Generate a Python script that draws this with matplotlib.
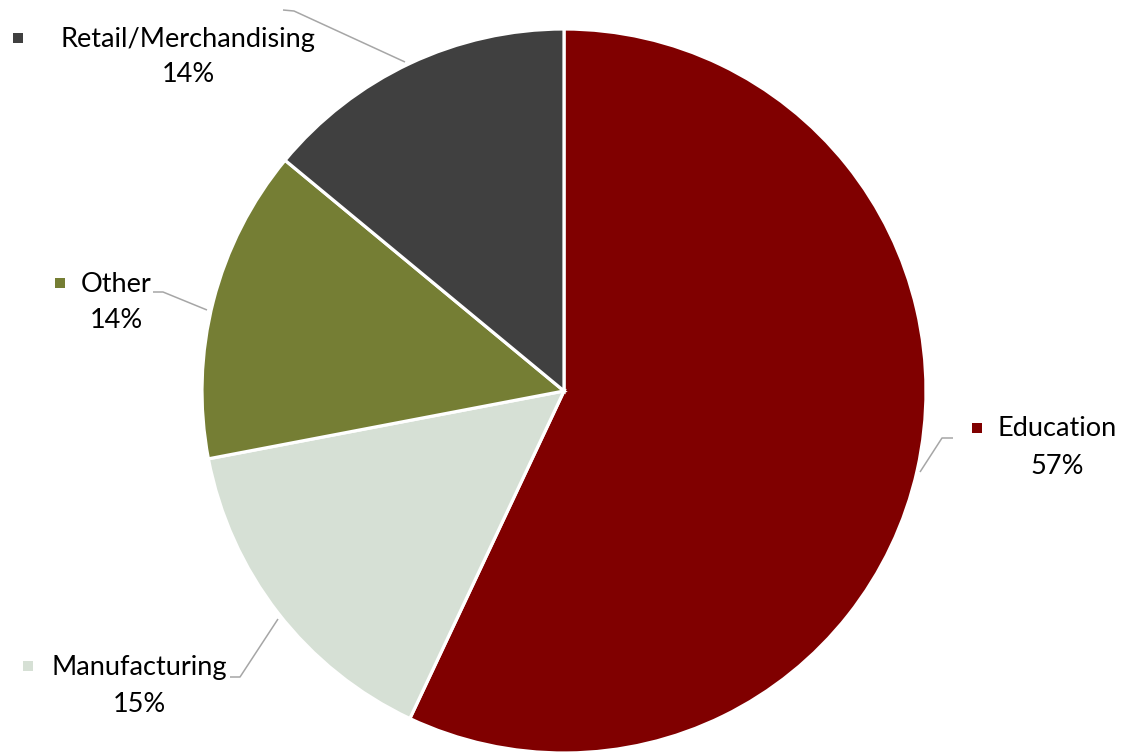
import matplotlib
matplotlib.use("Agg")
import matplotlib.pyplot as plt

categories = ["Education", "Manufacturing", "Other", "Retail/Merchandising"]
shares = [57, 15, 14, 14]
colors = ["#800000", "#D6E0D5", "#757E34", "#404040"]

W, H = 1128, 752
fig = plt.figure(figsize=(W / 100, H / 100), dpi=100)
ax = fig.add_axes([0, 0, 1, 1])

# pie drawn in pixel-like data coords (y inverted): clockwise from top
ax.pie(shares, colors=colors, startangle=-90, counterclock=True,
       center=(564, 391), radius=362,
       wedgeprops=dict(edgecolor="white", linewidth=2.3))
ax.set_xlim(0, W)
ax.set_ylim(H, 0)
ax.set_aspect("equal")
ax.axis("off")

# label layout: (name center x, name y, pct y, marker x, leader polyline)
layout = {
    "Education": (1057, 429, 466, 977, [(953, 438), (942, 438), (920, 472)]),
    "Manufacturing": (139, 667, 704, 28, [(230, 677), (240, 677), (278, 619)]),
    "Other": (116, 284, 321, 60, [(153, 292), (163, 292), (207, 310)]),
    "Retail/Merchandising": (188, 39, 75, 18, [(283, 10), (294, 11), (405, 62)]),
}

font = dict(family=["Lato", "DejaVu Sans"], fontsize=19.5, color="black")
for cat, val, col in zip(categories, shares, colors):
    nx, ny, py, mx, pts = layout[cat]
    xs = [p[0] for p in pts]
    ys = [p[1] for p in pts]
    ax.plot(xs, ys, color="#A6A6A6", linewidth=1.1, solid_capstyle="butt")
    ax.text(nx, ny, cat, ha="center", va="center", **font)
    ax.text(nx, py, f"{val}%", ha="center", va="center", **font)
    ax.plot([mx], [ny - 1], marker="s", markersize=7.5, color=col,
            markeredgewidth=0, linestyle="none")

fig.savefig("out.png", dpi=100, facecolor="white")
